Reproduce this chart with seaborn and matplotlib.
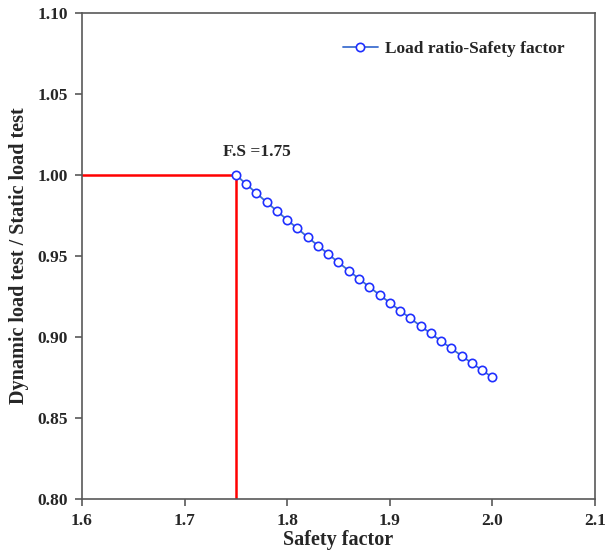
import matplotlib
matplotlib.use("Agg")
import matplotlib.pyplot as plt
import seaborn as sns
import pandas as pd

safety_factor = [1.75, 1.76, 1.77, 1.78, 1.79, 1.80, 1.81, 1.82, 1.83, 1.84,
                 1.85, 1.86, 1.87, 1.88, 1.89, 1.90, 1.91, 1.92, 1.93, 1.94,
                 1.95, 1.96, 1.97, 1.98, 1.99, 2.00]
load_ratio = [1.0000, 0.9943, 0.9887, 0.9831, 0.9777, 0.9722, 0.9669, 0.9615,
              0.9563, 0.9511, 0.9459, 0.9409, 0.9358, 0.9309, 0.9259, 0.9211,
              0.9162, 0.9115, 0.9067, 0.9021, 0.8974, 0.8929, 0.8883, 0.8838,
              0.8794, 0.8750]
series_label = "Load ratio-Safety factor"
fs_value = 1.75
x_ticks = [1.6, 1.7, 1.8, 1.9, 2.0, 2.1]
y_ticks = [0.80, 0.85, 0.90, 0.95, 1.00, 1.05, 1.10]

sns.set_style("white")
plt.rcParams['font.family'] = ['Liberation Serif', 'DejaVu Serif']
plt.rcParams['font.weight'] = 'bold'

df = pd.DataFrame({"sf": safety_factor, "ratio": load_ratio})

fig = plt.figure(figsize=(6.05, 5.55), dpi=100)
ax = fig.add_axes([0.1355, 0.101, 0.848, 0.876])

# red reference lines
ax.plot([x_ticks[0], fs_value], [1.0, 1.0], color="#ff0000", lw=1.8, zorder=2)
ax.plot([fs_value, fs_value], [y_ticks[0], 1.0], color="#ff0000", lw=1.8, zorder=2)

sns.lineplot(data=df, x="sf", y="ratio", ax=ax, color="#3f6fd0", lw=1.3,
             marker="o", markersize=6, markerfacecolor="white",
             markeredgecolor="#1f2fff", markeredgewidth=1.2,
             label=series_label, zorder=3)

ax.set_xlim(x_ticks[0], x_ticks[-1])
ax.set_ylim(y_ticks[0], y_ticks[-1])
ax.set_xticks(x_ticks)
ax.set_yticks(y_ticks)
ax.set_xticklabels([f"{v:.1f}" for v in x_ticks])
ax.set_yticklabels([f"{v:.2f}" for v in y_ticks])
ax.tick_params(axis="both", direction="out", length=5, width=1.2,
               color="#595959", labelsize=12.5, pad=5, left=True, bottom=True)
for lab in ax.get_xticklabels() + ax.get_yticklabels():
    lab.set_fontweight("bold")
for sp in ax.spines.values():
    sp.set_color("#595959")
    sp.set_linewidth(1.2)

ax.set_xlabel("Safety factor", fontsize=14.5, fontweight="bold", labelpad=1)
ax.set_ylabel("Dynamic load test / Static load test", fontsize=14.5,
              fontweight="bold", labelpad=6)

ax.text(1.7705, 1.0138, "F.S =1.75", ha="center", va="center", fontsize=12.5,
        fontweight="bold")

leg = ax.legend(loc="upper right", frameon=False, fontsize=12.5,
                bbox_to_anchor=(0.97, 0.975), handlelength=2.0,
                handletextpad=0.4)
for t in leg.get_texts():
    t.set_fontweight("bold")

fig.savefig("out.png", dpi=100)
